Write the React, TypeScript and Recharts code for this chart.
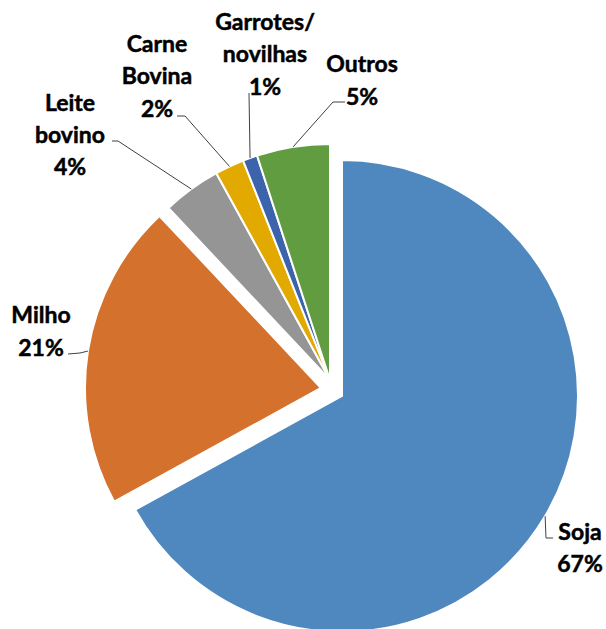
import React from "react";
import { PieChart, Pie, Cell } from "recharts";

const categories = ["Soja", "Milho", "Leite bovino", "Carne Bovina", "Garrotes/novilhas", "Outros"];
const shares = [67, 21, 4, 2, 1, 5];
const labelLines = [["Soja"], ["Milho"], ["Leite", "bovino"], ["Carne", "Bovina"], ["Garrotes/", "novilhas"], ["Outros"]];

const colors = ["#4F88BE", "#D4712C", "#959595", "#E2AA00", "#3B64AD", "#629C40"];

const data = categories.map((name, i) => ({ name, value: shares[i] }));

// where each slice group sits (exploded pieces)
const groups = [
  { cx: 342, cy: 396, members: [0] },
  { cx: 321, cy: 388, members: [1] },
  { cx: 330, cy: 380, members: [2, 3, 4, 5] },
];

// label text placement + leader elbows, by slice index
const labelLayout: { x: number; ys: number[]; elbow: [number, number][] }[] = [
  { x: 580, ys: [531, 563], elbow: [[546, 538], [553, 538]] },
  { x: 41, ys: [314, 347], elbow: [[80, 353], [68, 354]] },
  { x: 70, ys: [102, 134, 166], elbow: [[118, 141], [112, 141]] },
  { x: 157, ys: [43, 75, 108], elbow: [[185, 116], [177, 116]] },
  { x: 265, ys: [21, 53, 86], elbow: [[249, 93]] },
  { x: 362, ys: [63, 96], elbow: [[333, 102], [345, 102]] },
];

const RAD = Math.PI / 180;

function makeLabel(members: number[]) {
  return (props: any) => {
    const { cx, cy, midAngle, outerRadius, percent, index } = props;
    if (!members.includes(index)) return null;
    const lay = labelLayout[index];
    const sx = cx + outerRadius * Math.cos(-midAngle * RAD);
    const sy = cy + outerRadius * Math.sin(-midAngle * RAD);
    const pts = [[sx, sy], ...lay.elbow].map((p) => p.join(",")).join(" ");
    const lines = [...labelLines[index], `${Math.round(percent * 100)}%`];
    return (
      <g>
        <polyline points={pts} fill="none" stroke="#404040" strokeWidth={1} />
        {lines.map((t, k) => (
          <text
            key={k}
            x={lay.x}
            y={lay.ys[k]}
            textAnchor="middle"
            dominantBaseline="central"
            fontFamily="Lato, 'Open Sans', sans-serif"
            fontWeight={700}
            fontSize={23}
            fill="#000"
            stroke="#000"
            strokeWidth={0.5}
          >
            {t}
          </text>
        ))}
      </g>
    );
  };
}

export default function App() {
  return (
    <div style={{ position: "absolute", left: 0, top: 0, background: "#fff" }}>
      <PieChart width={606} height={629} margin={{ top: 0, right: 0, bottom: 0, left: 0 }}>
        {groups.map((g, gi) => (
          <Pie
            key={gi}
            data={data}
            dataKey="value"
            nameKey="name"
            cx={g.cx}
            cy={g.cy}
            outerRadius={236}
            innerRadius={0}
            startAngle={90}
            endAngle={-270}
            paddingAngle={0}
            label={makeLabel(g.members)}
            labelLine={false}
            isAnimationActive={false}
          >
            {data.map((d, i) => (
              <Cell
                key={d.name}
                fill={g.members.includes(i) ? colors[i] : "transparent"}
                stroke={g.members.includes(i) ? "#fff" : "none"}
                strokeWidth={2}
              />
            ))}
          </Pie>
        ))}
      </PieChart>
    </div>
  );
}
